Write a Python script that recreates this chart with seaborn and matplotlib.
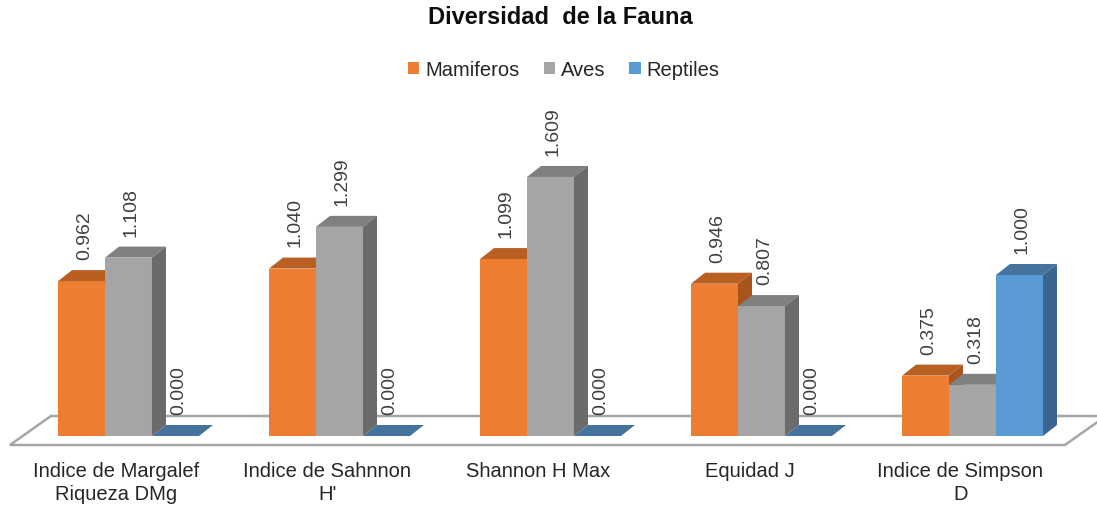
import numpy as np
import pandas as pd
import matplotlib
matplotlib.use("Agg")
import matplotlib.pyplot as plt
from matplotlib.patches import Polygon, Patch
from matplotlib.transforms import ScaledTranslation
import seaborn as sns

# ---- data ----
indices = ["Indice de Margalef\nRiqueza DMg", "Indice de Sahnnon\nH'", "Shannon H Max",
           "Equidad J", "Indice de Simpson\nD"]
grupos = ["Mamiferos", "Aves", "Reptiles"]
mamiferos = [0.962, 1.040, 1.099, 0.946, 0.375]
aves = [1.108, 1.299, 1.609, 0.807, 0.318]
reptiles = [0.000, 0.000, 0.000, 0.000, 1.000]

valores = {"Mamiferos": mamiferos, "Aves": aves, "Reptiles": reptiles}
df = pd.DataFrame([
    {"Indice": ind, "Grupo": g, "Valor": valores[g][i]}
    for g in grupos for i, ind in enumerate(indices)
])

# face colours: front, top, side
caras = {
    "Mamiferos": ("#ED7D31", "#BA5F22", "#A8541D"),
    "Aves": ("#A5A5A5", "#808080", "#6B6B6B"),
    "Reptiles": ("#5B9BD5", "#44739E", "#3A6590"),
}

sns.set_theme(style="white")
plt.rcParams["font.family"] = ["Liberation Sans", "DejaVu Sans"]

W, H, DPI = 1097, 506, 100
fig = plt.figure(figsize=(W / DPI, H / DPI), dpi=DPI)
fig.patch.set_facecolor("white")

# axes geometry (pixels)
ax_bottom_px = 54
ax = fig.add_axes([0, ax_bottom_px / H, 1, 1 - ax_bottom_px / H])
ax.set_facecolor("none")

sns.barplot(data=df, x="Indice", y="Valor", hue="Grupo", hue_order=grupos,
            palette={g: caras[g][0] for g in grupos}, width=0.668, saturation=1,
            legend=False, edgecolor="none", linewidth=0, ax=ax)

# scale: px per data unit
ppu_x, ppu_y = 211.0, 161.0
x0_px, base_px = 128.5, H - 437  # first category centre, baseline (from bottom)
ax.set_xlim(-x0_px / ppu_x, (W - x0_px) / ppu_x)
ax.set_ylim(-(base_px - ax_bottom_px) / ppu_y, (H - base_px) / ppu_y)

# depth of the pseudo-3D extrusion
dx = 14 / ppu_x
dy = 11 / ppu_y

# floor
n = len(indices)
f_front, f_back = -9 / ppu_y, 20 / ppu_y
f_left = -0.5 - 0.062
f_shift = 41 / ppu_x
floor = Polygon([(f_left, f_front), (f_left + n, f_front),
                 (f_left + n + f_shift, f_back), (f_left + f_shift, f_back)],
                closed=True, facecolor="white", edgecolor="#A6A6A6", lw=1.8, zorder=1)
ax.add_patch(floor)

# collect bars with their series, draw extrusion faces left to right
barras = []
for g, cont in zip(grupos, ax.containers):
    for rect, v in zip(cont.patches, valores[g]):
        barras.append((rect, g, v))
barras.sort(key=lambda t: t[0].get_x())

for k, (rect, g, v) in enumerate(barras):
    z = 3 + 3 * k
    x0 = rect.get_x()
    x1 = x0 + rect.get_width()
    rect.set_zorder(z)
    _, top_c, side_c = caras[g]
    ax.add_patch(Polygon([(x0, v), (x1, v), (x1 + dx, v + dy), (x0 + dx, v + dy)],
                         closed=True, facecolor=top_c, edgecolor="none", zorder=z + 1))
    if v > 0:
        ax.add_patch(Polygon([(x1, 0), (x1 + dx, dy), (x1 + dx, v + dy), (x1, v)],
                             closed=True, facecolor=side_c, edgecolor="none", zorder=z + 2))
    ax.annotate(f"{v:.3f}", xy=((x0 + x1) / 2, v + dy), xytext=(2, 8),
                textcoords="offset points", rotation=90, ha="center", va="bottom",
                fontsize=14, color="#404040", zorder=100)

# axes cosmetics
for s in ax.spines.values():
    s.set_visible(False)
ax.set_yticks([])
ax.set_xlabel("")
ax.set_ylabel("")
ax.set_xticks(range(n))
ax.set_xticklabels(indices, fontsize=14.5, color="#262626", linespacing=1.3)
ax.tick_params(axis="x", length=0, pad=7)
shift = ScaledTranslation(-12 / DPI, 0, fig.dpi_scale_trans)
for lab in ax.get_xticklabels():
    lab.set_transform(lab.get_transform() + shift)

# title and legend
fig.text(0.5105, 1 - 18 / H, "Diversidad  de la Fauna", ha="center", va="center",
         fontsize=17, fontweight="bold", color="#0D0D0D")
handles = [Patch(facecolor=caras[g][0], edgecolor="none") for g in grupos]
fig.legend(handles, grupos, loc="center", bbox_to_anchor=(0.514, 1 - 71 / H), ncol=3,
           frameon=False, fontsize=14.5, handlelength=0.55, handleheight=0.55,
           handletextpad=0.3, columnspacing=1.2, labelcolor="#262626")

fig.savefig("out.png", dpi=DPI)
